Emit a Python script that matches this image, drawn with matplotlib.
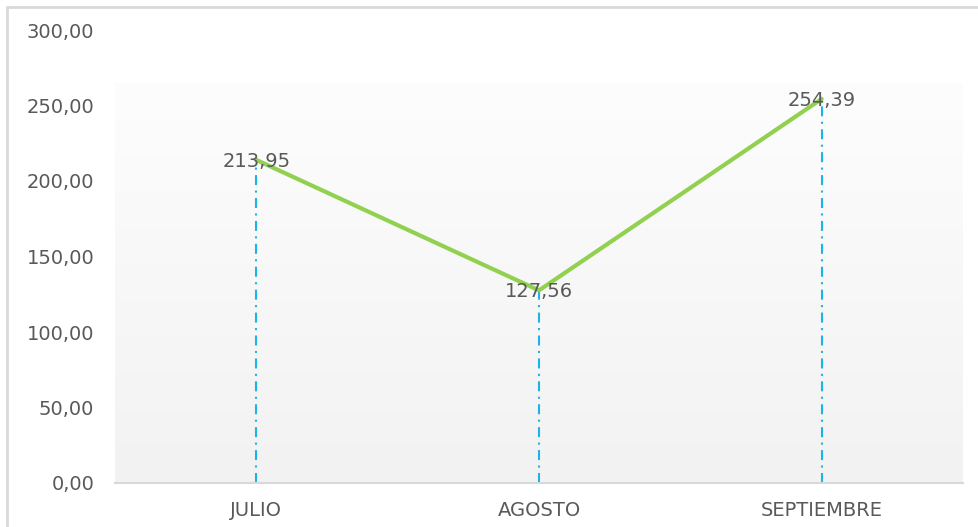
import numpy as np
import matplotlib
matplotlib.use("Agg")
import matplotlib.pyplot as plt
from matplotlib.patches import Rectangle
from matplotlib.colors import LinearSegmentedColormap

# data
months = ["JULIO", "AGOSTO", "SEPTIEMBRE"]
values = [213.95, 127.56, 254.39]
y_ticks = [0, 50, 100, 150, 200, 250, 300]

text_color = "#595959"
plt.rcParams["font.family"] = ["DejaVu Sans"]

fig = plt.figure(figsize=(9.79, 5.27), dpi=100)
fig.patch.set_facecolor("white")

# light gray outer frame (cut off at right and bottom)
fig.patches.append(Rectangle((7 / 979, -0.05), 1.1, 1 - 6.5 / 527 + 0.05,
                             transform=fig.transFigure, fill=False,
                             edgecolor="#d9d9d9", linewidth=2))

ax = fig.add_axes([115 / 979, 1 - 483 / 527, 848 / 979, 453 / 527])
ax.set_facecolor("none")
x = np.arange(len(months))

# gradient plot area background
grad = np.linspace(0, 1, 256).reshape(-1, 1)
cmap = LinearSegmentedColormap.from_list("g", ["#fdfdfd", "#f2f2f2"])
ax.imshow(grad, cmap=cmap, aspect="auto", extent=[-0.5, 2.5, 0, 265],
          origin="upper", zorder=0)

ax.vlines(x, 0, values, colors="#1ab3ea", linewidth=1.5,
          linestyles=[(0, (4.8, 2.6, 1, 2.6))], zorder=2)
ax.plot(x, values, color="#92d050", linewidth=3, solid_capstyle="round", zorder=3)

for xi, v in zip(x, values):
    ax.text(xi, v - 1, f"{v:.2f}".replace(".", ","), ha="center", va="center",
            fontsize=14, color=text_color, zorder=4)

ax.set_xlim(-0.5, 2.5)
ax.set_ylim(0, 300)
ax.set_yticks(y_ticks)
ax.set_yticklabels([f"{t:.2f}".replace(".", ",") for t in y_ticks])
ax.set_xticks(x)
ax.set_xticklabels(months)
ax.tick_params(axis="y", length=0, pad=15, labelsize=14, labelcolor=text_color)
ax.tick_params(axis="x", length=0, pad=13, labelsize=14, labelcolor=text_color)

for s in ["top", "right", "left"]:
    ax.spines[s].set_visible(False)
ax.spines["bottom"].set_color("#d9d9d9")
ax.spines["bottom"].set_linewidth(1.5)

fig.savefig("out.png", dpi=100)
